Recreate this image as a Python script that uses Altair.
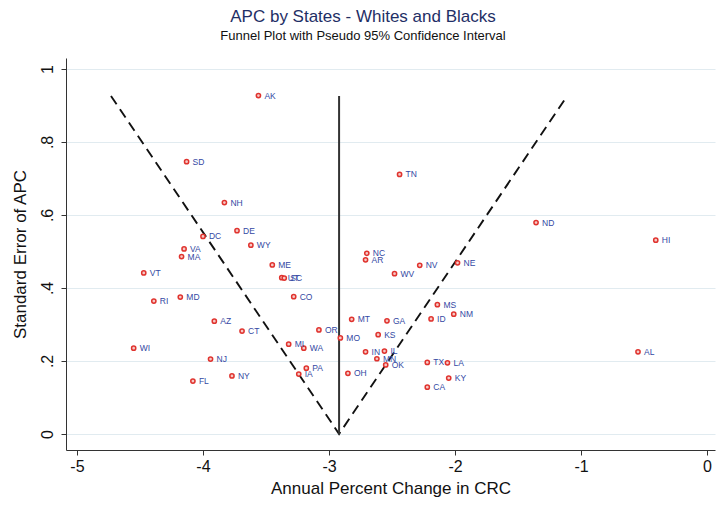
import altair as alt
import pandas as pd

# ---- data ----
states = ["AK", "SD", "NH", "DE", "DC", "WY", "VA", "MA", "VT", "ME",
          "RI", "MD", "AZ", "CT", "WI", "NJ", "NY", "FL", "TN", "NC",
          "AR", "NV", "NE", "WV", "UT", "SC", "CO", "MT", "GA", "OR",
          "MO", "KS", "MI", "WA", "IN", "IL", "MN", "OK", "PA", "IA",
          "OH", "MS", "ID", "NM", "TX", "LA", "KY", "CA", "ND", "HI", "AL"]
apc = [-3.56, -4.13, -3.83, -3.73, -4.00, -3.62, -4.15, -4.17, -4.47, -3.45,
       -4.39, -4.18, -3.91, -3.69, -4.55, -3.94, -3.77, -4.08, -2.44, -2.70,
       -2.71, -2.28, -1.98, -2.48, -3.375, -3.355, -3.28, -2.82, -2.54, -3.08,
       -2.91, -2.61, -3.32, -3.20, -2.71, -2.56, -2.62, -2.55, -3.18, -3.24,
       -2.85, -2.14, -2.19, -2.01, -2.22, -2.06, -2.05, -2.22, -1.357, -0.407, -0.548]
se = [0.927, 0.746, 0.634, 0.557, 0.541, 0.517, 0.507, 0.486, 0.441, 0.463,
      0.364, 0.375, 0.309, 0.282, 0.235, 0.205, 0.159, 0.145, 0.711, 0.495,
      0.477, 0.462, 0.469, 0.439, 0.428, 0.427, 0.376, 0.314, 0.310, 0.285,
      0.263, 0.272, 0.246, 0.235, 0.225, 0.227, 0.206, 0.189, 0.180, 0.164,
      0.166, 0.354, 0.315, 0.328, 0.196, 0.195, 0.153, 0.128, 0.579, 0.531, 0.225]

funnel_x = [-4.73, -2.92, -1.11]
funnel_y = [0.926, 0.0, 0.926]
center_x = [-2.92, -2.92]
center_y = [0.0, 0.926]

x_ticks = [-5, -4, -3, -2, -1, 0]
y_ticks = [0, 0.2, 0.4, 0.6, 0.8, 1]

df = pd.DataFrame({"state": states, "apc": apc, "se": se})
fdf = pd.DataFrame({"apc": funnel_x, "se": funnel_y, "ord": list(range(len(funnel_x)))})
cdf = pd.DataFrame({"apc": center_x, "se": center_y, "ord": list(range(len(center_x)))})

FONT = "Liberation Sans"

xs = alt.Scale(domain=[-5.087, 0.063], nice=False, zero=False)
ys = alt.Scale(domain=[-0.044, 1.030], nice=False, zero=False)

x_axis = alt.Axis(values=x_ticks, title="Annual Percent Change in CRC", grid=False,
                  labelExpr="datum.value + ''",
                  labelFontSize=16, titleFontSize=17, labelFont=FONT, titleFont=FONT,
                  titleFontWeight="normal", labelColor="#111", titleColor="#111",
                  domainColor="#333", tickColor="#333", tickSize=5, labelPadding=3,
                  titlePadding=6, labelFlush=False)
y_axis = alt.Axis(values=y_ticks, title="Standard Error of APC", grid=True,
                  gridColor="#e1ebf0", gridWidth=1,
                  labelExpr="datum.value == 0 ? '0' : (datum.value == 1 ? '1' : replace(format(datum.value, '.1f'), '0.', '.'))",
                  labelAngle=270, labelAlign="center", labelBaseline="bottom",
                  labelFontSize=16, titleFontSize=17, labelFont=FONT, titleFont=FONT,
                  titleFontWeight="normal", labelColor="#111", titleColor="#111",
                  domainColor="#333", tickColor="#333", tickSize=5, labelPadding=6,
                  titlePadding=10, labelFlush=False)

x_enc = alt.X("apc:Q", scale=xs, axis=x_axis)
y_enc = alt.Y("se:Q", scale=ys, axis=y_axis)

funnel = alt.Chart(fdf).mark_line(color="#111", strokeWidth=1.9, strokeDash=[10, 6]).encode(
    x=x_enc, y=y_enc, order="ord:Q")
center = alt.Chart(cdf).mark_line(color="#333", strokeWidth=2).encode(
    x=x_enc, y=y_enc, order="ord:Q")
points = alt.Chart(df).mark_point(shape="circle", filled=False, color="#e0332e",
                                  size=18, strokeWidth=1.5, fill="#f6c9c6", fillOpacity=1).encode(
    x=x_enc, y=y_enc)
labels = alt.Chart(df).mark_text(align="left", baseline="middle", dx=6, fontSize=8.5,
                                 font=FONT, color="#3348a3").encode(
    x=x_enc, y=y_enc, text="state:N")

chart = alt.layer(funnel, center, points, labels).properties(
    width=649, height=392,
    autosize=alt.AutoSizeParams(type="none"),
    padding={"left": 58, "top": 50, "right": 4, "bottom": 50},
    title=alt.TitleParams(
        text="APC by States - Whites and Blacks",
        subtitle="Funnel Plot with Pseudo 95% Confidence Interval",
        anchor="middle", frame="bounds", font=FONT, fontSize=17, fontWeight="normal",
        color="#1f2f66", subtitleFont=FONT, subtitleFontSize=13, subtitleColor="#111",
        subtitlePadding=4, offset=14),
    background="white",
).configure_view(stroke=None)

chart.save("out.html", embed_options={"renderer": "svg", "actions": False})
